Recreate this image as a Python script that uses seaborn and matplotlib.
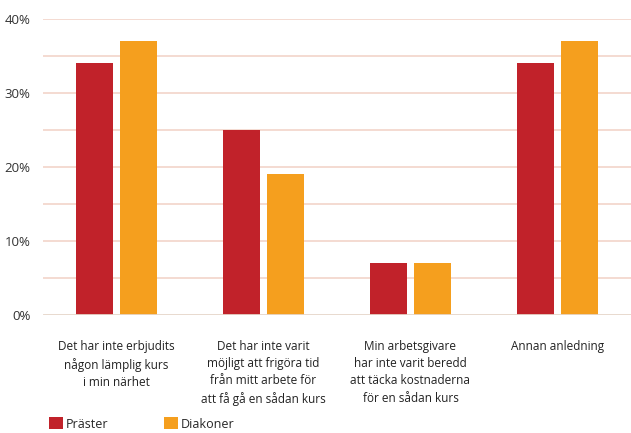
import numpy as np
import pandas as pd
import matplotlib
matplotlib.use("Agg")
import matplotlib.pyplot as plt
import seaborn as sns

# --- chart data ---
categories = [
    "Det har inte erbjudits\nnågon lämplig kurs\ni min närhet",
    "Det har inte varit\nmöjligt att frigöra tid\nfrån mitt arbete för\natt få gå en sådan kurs",
    "Min arbetsgivare\nhar inte varit beredd\natt täcka kostnaderna\nför en sådan kurs",
    "Annan anledning",
]
praster = [34, 25, 7, 34]
diakoner = [37, 19, 7, 37]
series_names = ["Präster", "Diakoner"]
y_ticks = [0, 10, 20, 30, 40]
y_tick_labels = ["0%", "10%", "20%", "30%", "40%"]

df = pd.DataFrame({
    "kategori": categories * 2,
    "grupp": [series_names[0]] * 4 + [series_names[1]] * 4,
    "andel": praster + diakoner,
})

sns.set_theme(style="white")
plt.rcParams["font.family"] = ["Open Sans", "DejaVu Sans"]

fig = plt.figure(figsize=(6.31, 4.33), dpi=100)
ax = fig.add_axes([43 / 631, 118 / 433, 588 / 631, 296 / 433])

# light pink gridlines every 5%
for yv in np.arange(5, 41, 5):
    ax.axhline(yv, color="#F2D4C9", lw=1.2, zorder=0)
ax.axhline(0, color="#E6D6CA", lw=2.0, zorder=3)

sns.barplot(data=df, x="kategori", y="andel", hue="grupp",
            palette=["#C1222A", "#F59F1E"], width=0.6, gap=0.16,
            saturation=1, linewidth=0, ax=ax, zorder=2)

ax.set_ylim(0, 40)
ax.set_xlim(-0.5, 3.5)
ax.set_yticks(y_ticks)
ax.set_yticklabels(y_tick_labels, fontsize=9.5, color="#333333")
ax.tick_params(axis="y", length=0, pad=9)
ax.tick_params(axis="x", length=0, pad=18)
for lab in ax.get_xticklabels():
    lab.set_fontsize(8.5)
    lab.set_color("#222222")
    lab.set_linespacing(1.42)
    lab.set_verticalalignment("top")
ax.set_xlabel("")
ax.set_ylabel("")
for s in ax.spines.values():
    s.set_visible(False)

sns.move_legend(ax, loc="lower left", bbox_to_anchor=(43 / 631, -0.009),
                bbox_transform=fig.transFigure, ncol=2, frameon=False,
                title=None, fontsize=9, handlelength=1.1, handleheight=1.1,
                handletextpad=0.25, columnspacing=4.4, borderpad=0,
                prop={"weight": "medium", "size": 9})

fig.savefig("out.png", dpi=100)
